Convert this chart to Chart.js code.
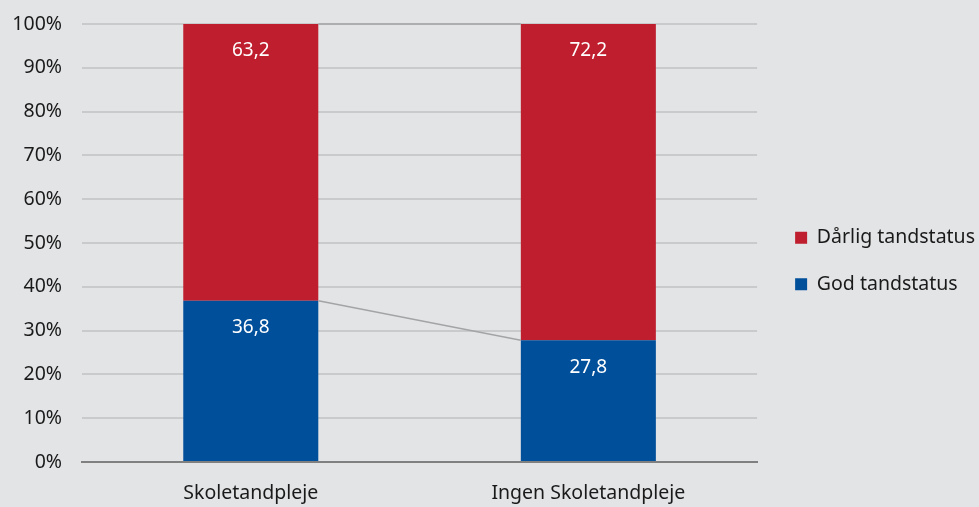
<!DOCTYPE html>
<html>
<head>
<meta charset="utf-8">
<script src="https://cdn.jsdelivr.net/npm/chart.js@4/dist/chart.umd.min.js"></script>
<style>
  html, body { margin: 0; padding: 0; background: #e3e4e6; }
  #wrap { width: 979px; height: 507px; }
</style>
</head>
<body>
<div id="wrap"><canvas id="tandChart" width="979" height="507"></canvas></div>
<script>
  const categories = ['Skoletandpleje', 'Ingen Skoletandpleje'];
  const godValues = [36.8, 27.8];
  const daarligValues = [63.2, 72.2];
  const yTicks = [0, 10, 20, 30, 40, 50, 60, 70, 80, 90, 100];

  const RED = '#be1e2d';
  const BLUE = '#004f9a';
  const FONT = '"Noto Sans", "Open Sans", sans-serif';
  const SIZE = 19.5;

  const fmt = (v) => v.toFixed(1).replace('.', ',');

  // values written near the top of each segment
  const valueLabels = {
    id: 'valueLabels',
    afterDatasetsDraw(chart) {
      const ctx = chart.ctx;
      ctx.save();
      ctx.fillStyle = '#ffffff';
      ctx.font = '19px ' + FONT;
      ctx.textAlign = 'center';
      ctx.textBaseline = 'middle';
      chart.data.datasets.forEach((ds, di) => {
        chart.getDatasetMeta(di).data.forEach((bar, i) => {
          ctx.fillText(fmt(ds.data[i]), bar.x, bar.y + 27);
        });
      });
      ctx.restore();
    }
  };

  // connector lines between the stack boundaries of neighbouring bars
  const seriesLines = {
    id: 'seriesLines',
    afterDatasetsDraw(chart) {
      const ctx = chart.ctx;
      ctx.save();
      ctx.strokeStyle = '#a3a4a6';
      ctx.lineWidth = 1.5;
      chart.data.datasets.forEach((ds, di) => {
        const bars = chart.getDatasetMeta(di).data;
        for (let i = 0; i < bars.length - 1; i++) {
          const a = bars[i], b = bars[i + 1];
          ctx.beginPath();
          ctx.moveTo(a.x + a.width / 2, a.y);
          ctx.lineTo(b.x - b.width / 2, b.y);
          ctx.stroke();
        }
      });
      ctx.restore();
    }
  };

  const ctx = document.getElementById('tandChart').getContext('2d');
  new Chart(ctx, {
    type: 'bar',
    data: {
      labels: categories,
      datasets: [
        { label: 'God tandstatus', data: godValues, backgroundColor: BLUE, borderWidth: 0 },
        { label: 'Dårlig tandstatus', data: daarligValues, backgroundColor: RED, borderWidth: 0 }
      ]
    },
    options: {
      responsive: false,
      animation: false,
      layout: { padding: { top: 15, left: 0, right: -6, bottom: 0 } },
      datasets: { bar: { barPercentage: 0.4, categoryPercentage: 1 } },
      plugins: {
        legend: {
          position: 'right',
          reverse: true,
          labels: {
            boxWidth: 12,
            boxHeight: 12,
            padding: 27,
            color: '#1a1a1a',
            font: { family: FONT, size: SIZE }
          }
        },
        tooltip: { enabled: false }
      },
      scales: {
        x: {
          stacked: true,
          grid: { display: false, drawTicks: false },
          border: { color: '#808080', width: 2 },
          afterFit: (s) => { s.height = 45; },
          ticks: { color: '#1a1a1a', padding: 20, font: { family: FONT, size: SIZE } }
        },
        y: {
          stacked: true,
          min: 0,
          max: 100,
          afterBuildTicks: (s) => { s.ticks = yTicks.map((v) => ({ value: v })); },
          afterFit: (s) => {
            s.width = 82;
            s.paddingTop = 24;
            s.paddingBottom = 0;
          },
          grid: { color: '#c9cacc', lineWidth: 2, drawTicks: false },
          border: { display: false },
          ticks: {
            color: '#1a1a1a',
            padding: 20,
            font: { family: FONT, size: SIZE },
            callback: (v) => v + '%'
          }
        },
        // empty spacer between the plot and the legend
        gap: {
          display: false,
          position: 'right',
          afterFit: (s) => { s.width = 11; }
        }
      }
    },
    plugins: [seriesLines, valueLabels]
  });
</script>
</body>
</html>
